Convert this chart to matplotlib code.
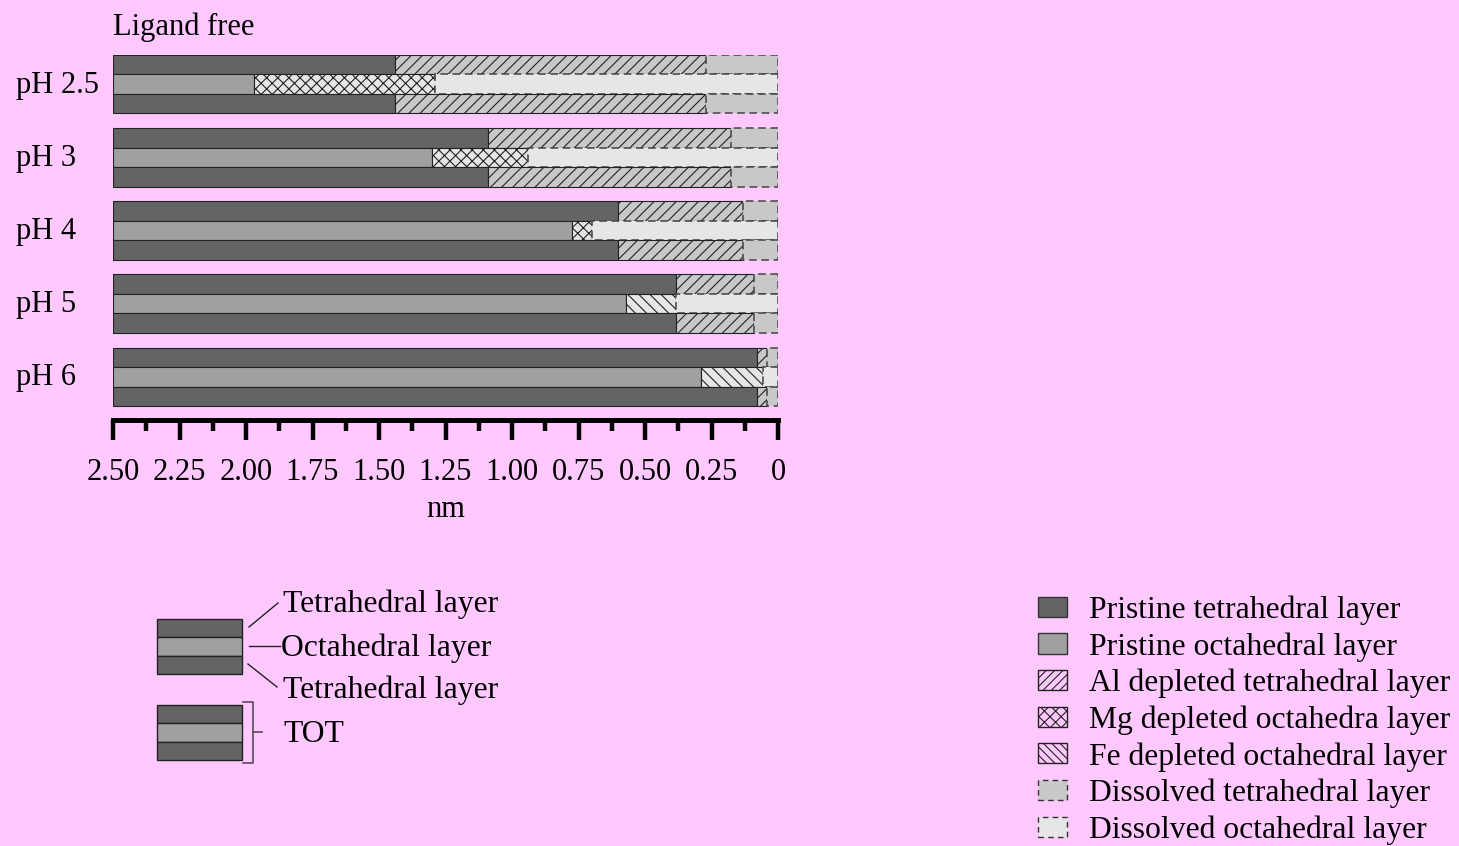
import numpy as np
import matplotlib
matplotlib.use("Agg")
import matplotlib.pyplot as plt
from matplotlib.patches import Patch, Rectangle

# ---------------- data (depths in nm, measured from the surface at 0) ----------------
ph_labels = ["pH 2.5", "pH 3", "pH 4", "pH 5", "pH 6"]
total_depth = 2.5
tet_pristine_to = [1.44, 1.09, 0.60, 0.385, 0.08]   # pristine tetrahedral ends here
tet_depleted_to = [0.27, 0.175, 0.13, 0.09, 0.04]   # Al depleted tetrahedral ends here
oct_pristine_to = [1.97, 1.30, 0.775, 0.57, 0.29]   # pristine octahedral ends here
oct_depleted_to = [1.29, 0.94, 0.70, 0.385, 0.055]  # Mg/Fe depleted octahedral ends here
oct_depleted_kind = ["Mg", "Mg", "Mg", "Fe", "Fe"]
x_ticks = [2.5, 2.25, 2.0, 1.75, 1.5, 1.25, 1.0, 0.75, 0.5, 0.25, 0.0]
x_ticklabels = ["2.50", "2.25", "2.00", "1.75", "1.50", "1.25", "1.00", "0.75", "0.50", "0.25", "0"]
legend_labels = ["Pristine tetrahedral layer", "Pristine octahedral layer",
                 "Al depleted tetrahedral layer", "Mg depleted octahedra layer",
                 "Fe depleted octahedral layer", "Dissolved tetrahedral layer",
                 "Dissolved octahedral layer"]

# ---------------- style ----------------
BG = "#ffc9ff"
C_TET = "#646464"
C_OCT = "#a0a0a0"
C_DTET = "#c8c8c8"
C_DOCT = "#e6e6e6"
DASH = (0, (5, 3))
plt.rcParams["font.family"] = ["Liberation Serif", "DejaVu Serif"]
plt.rcParams["hatch.linewidth"] = 0.8
FS = 22
FS2 = 22.8

W, H = 1459, 846
fig = plt.figure(figsize=(W / 100, H / 100), dpi=100, facecolor=BG)

# main axes: x from px 113 to 778, y from px 55 to 420
ax = fig.add_axes([113 / W, (H - 420) / H, 665 / W, 365 / H])
ax.set_facecolor(BG)

pitch = 3.76
hatch_for = {"Mg": "xxx", "Fe": "\\\\\\"}
for i in range(len(ph_labels)):
    top = i * pitch
    for j, layer in enumerate(["tet", "oct", "tet"]):
        yc = top + j + 0.5
        if layer == "tet":
            p, d = tet_pristine_to[i], tet_depleted_to[i]
            ax.barh(yc, total_depth - p, left=p, height=1, color=C_TET, edgecolor="#222222", linewidth=0.8)
            ax.barh(yc, p - d, left=d, height=1, color=C_DTET, edgecolor="#222222", linewidth=0.8, hatch="///")
            ax.barh(yc, d, left=0, height=1, color=C_DTET, edgecolor="#444444", linewidth=1.1, linestyle=DASH)
        else:
            p, d = oct_pristine_to[i], oct_depleted_to[i]
            ax.barh(yc, total_depth - p, left=p, height=1, color=C_OCT, edgecolor="#222222", linewidth=0.8)
            ax.barh(yc, p - d, left=d, height=1, color=C_DOCT, edgecolor="#222222", linewidth=0.8,
                    hatch=hatch_for[oct_depleted_kind[i]])
            ax.barh(yc, d, left=0, height=1, color=C_DOCT, edgecolor="#444444", linewidth=1.1, linestyle=DASH)

ax.set_xlim(total_depth, 0)
ax.set_ylim(18.76, 0)
ax.set_yticks([i * pitch + 1.38 for i in range(len(ph_labels))])
ax.set_yticklabels(ph_labels, fontsize=FS, ha="left")
ax.tick_params(axis="y", length=0, pad=(113 - 16) * 0.72)
for s in ["top", "left", "right"]:
    ax.spines[s].set_visible(False)
ax.spines["bottom"].set_linewidth(3.6)
ax.set_xticks(x_ticks)
ax.set_xticklabels(x_ticklabels, fontsize=FS)
ax.set_xticks([t + 0.125 for t in x_ticks[1:]], minor=True)
ax.tick_params(axis="x", which="major", length=14.5, width=3.2, pad=13)
ax.tick_params(axis="x", which="minor", length=8, width=3.2)
ax.set_xlabel("nm", fontsize=FS, labelpad=5.5)

fig.text(113 / W, 1 - 27 / H, "Ligand free", fontsize=FS, ha="left", va="center")

# ---------------- TOT schematic (figure pixel coordinates) ----------------
ov = fig.add_axes([0, 0, 1, 1])
ov.set_xlim(0, W)
ov.set_ylim(H, 0)
ov.axis("off")
for y0 in (619, 705):
    lh = 55 / 3
    for k, c in enumerate([C_TET, C_OCT, C_TET]):
        ov.add_patch(Rectangle((157, y0 + k * lh), 85, lh, facecolor=c, edgecolor="#222222", linewidth=1))
ov.plot([249, 278], [627, 603], color="#222222", lw=1)
ov.plot([249, 280], [646, 646], color="#222222", lw=1)
ov.plot([248, 277], [664, 687], color="#222222", lw=1)
ov.text(283, 604, "Tetrahedral layer", fontsize=FS2, va="center", ha="left")
ov.text(281, 648, "Octahedral layer", fontsize=FS2, va="center", ha="left")
ov.text(283, 690, "Tetrahedral layer", fontsize=FS2, va="center", ha="left")
ov.text(283, 734, "TOT", fontsize=FS2, va="center", ha="left")
ov.plot([243, 253, 253, 243], [702, 702, 763, 763], color="#5a4a5a", lw=1.2)
ov.plot([253, 262], [732, 732], color="#5a4a5a", lw=1.2)

# ---------------- legend ----------------
handles = [
    Patch(facecolor=C_TET, edgecolor="#333333", label=legend_labels[0]),
    Patch(facecolor=C_OCT, edgecolor="#333333", label=legend_labels[1]),
    Patch(facecolor="none", edgecolor="#222222", hatch="////", label=legend_labels[2]),
    Patch(facecolor="none", edgecolor="#222222", hatch="xxx", label=legend_labels[3]),
    Patch(facecolor="none", edgecolor="#222222", hatch="\\\\\\\\", label=legend_labels[4]),
    Patch(facecolor=C_DTET, edgecolor="#333333", linestyle=(0, (4, 3)), label=legend_labels[5]),
    Patch(facecolor=C_DOCT, edgecolor="#333333", linestyle=(0, (4, 3)), label=legend_labels[6]),
]
fig.legend(handles=handles, loc="upper left", bbox_to_anchor=(1038 / W, 1 - 595.5 / H),
           frameon=False, fontsize=FS2, handlelength=0.92, handleheight=0.6,
           handletextpad=0.68, labelspacing=0.225, borderpad=0, borderaxespad=0)

fig.savefig("out.png", dpi=100, facecolor=BG)
